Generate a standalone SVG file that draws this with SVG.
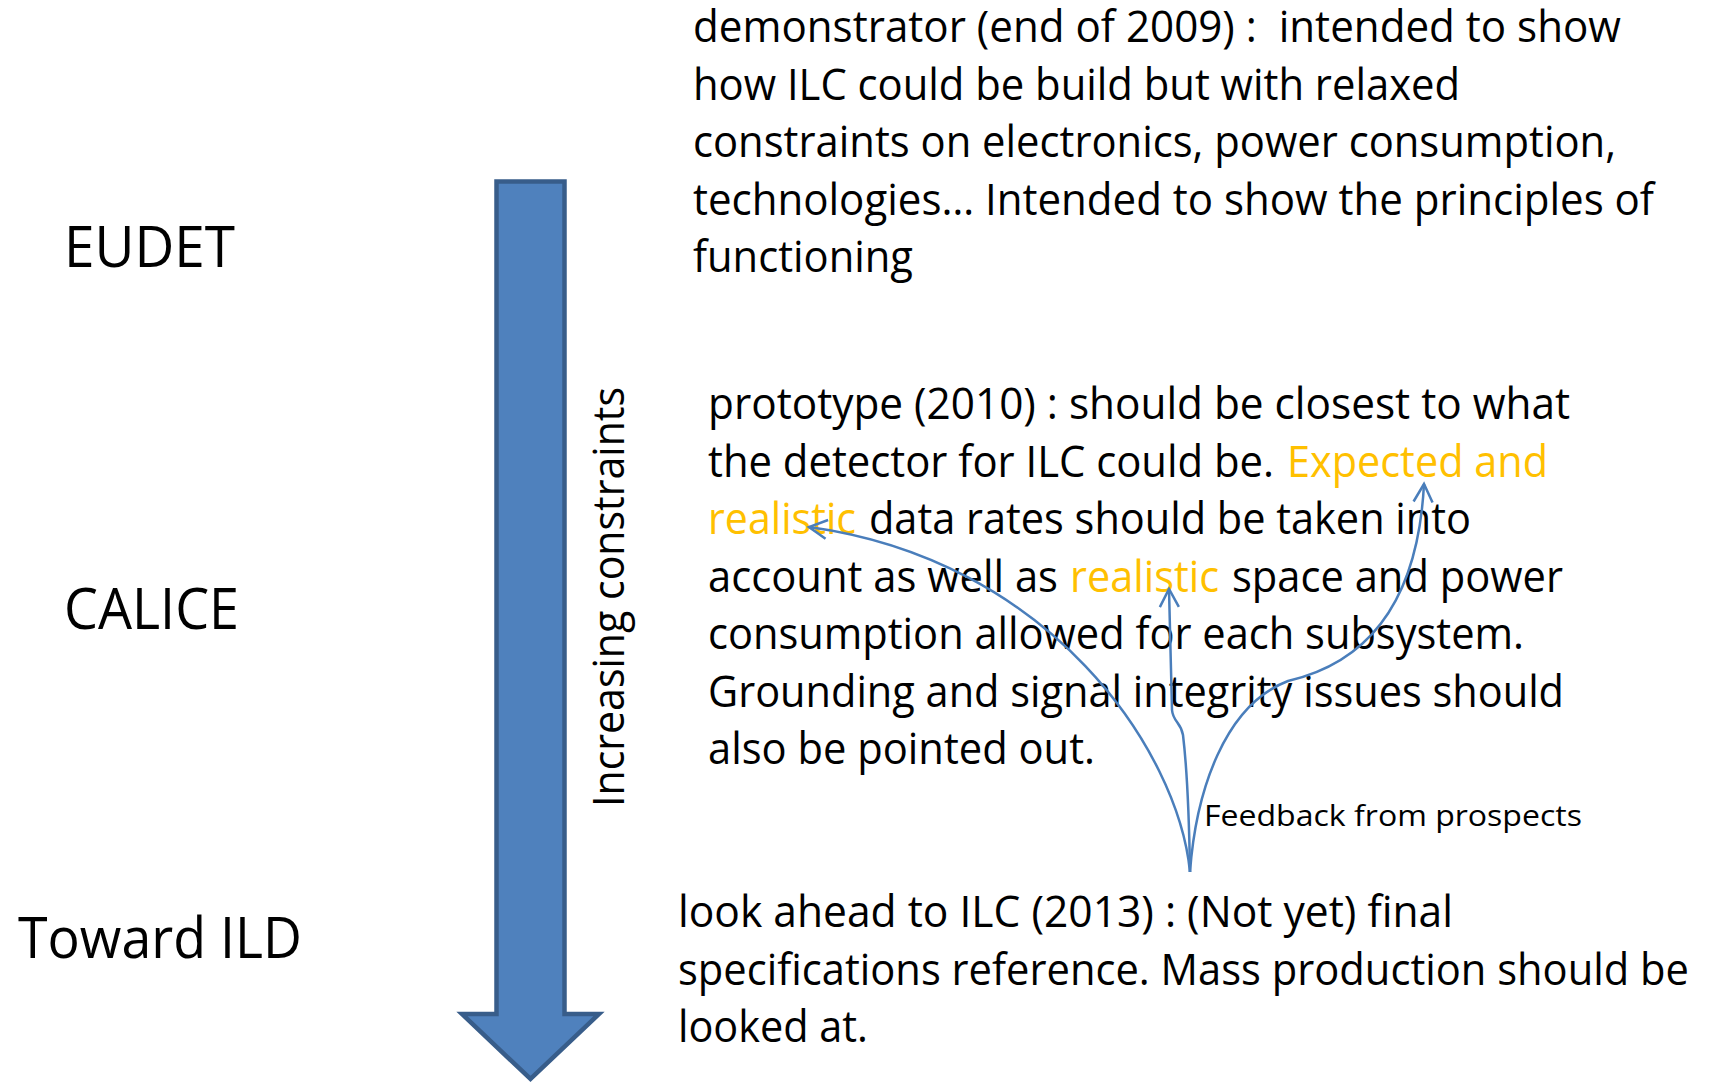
<svg xmlns="http://www.w3.org/2000/svg" width="1710" height="1083" viewBox="0 0 1710 1083">
<style>
.t{font-family:"Open Sans","Noto Sans","Liberation Sans",sans-serif;fill:#000;}
.b{font-size:43px;}
.o{fill:#FFC000;}
.lbl{font-size:57px;}
.fb{font-size:29.5px;}
.conn{fill:none;stroke:#4A7EBB;stroke-width:2.5;}
</style>
<defs>
<marker id="ah" markerUnits="userSpaceOnUse" markerWidth="26" markerHeight="26" refX="20" refY="11" orient="auto" overflow="visible">
<path d="M2,1.5 L20,11 L2,20.5" fill="none" stroke="#4A7EBB" stroke-width="2.5"/>
</marker>
</defs>
<rect width="1710" height="1083" fill="#fff"/>

<g id="big-arrow">
<path d="M496.5,181.5 H564.5 V1014 H599 L530.5,1079 L462,1014 H496.5 Z" fill="#4F81BD" stroke="#385D8A" stroke-width="4.5" stroke-linejoin="miter"/>
</g>

<g id="label-increasing">
<text class="t b" transform="translate(623.5,807) rotate(-90)" x="0" y="0" textLength="420" lengthAdjust="spacingAndGlyphs">Increasing constraints</text>
</g>

<g id="label-eudet"><text class="t lbl" x="64" y="267" textLength="171" lengthAdjust="spacingAndGlyphs">EUDET</text></g>
<g id="label-calice"><text class="t lbl" x="64" y="629" textLength="175" lengthAdjust="spacingAndGlyphs">CALICE</text></g>
<g id="label-ild"><text class="t lbl" x="18" y="958" textLength="284" lengthAdjust="spacingAndGlyphs">Toward ILD</text></g>

<g id="demonstrator">
<text class="t b" x="693" y="42" textLength="928" lengthAdjust="spacingAndGlyphs" xml:space="preserve">demonstrator (end of 2009) :  intended to show</text>
<text class="t b" x="693" y="99.6" textLength="767" lengthAdjust="spacingAndGlyphs">how ILC could be build but with relaxed</text>
<text class="t b" x="693" y="157.2" textLength="923" lengthAdjust="spacingAndGlyphs">constraints on electronics, power consumption,</text>
<text class="t b" x="693" y="214.8" textLength="961" lengthAdjust="spacingAndGlyphs">technologies… Intended to show the principles of</text>
<text class="t b" x="693" y="272.4" textLength="220" lengthAdjust="spacingAndGlyphs">functioning</text>
</g>

<g id="prototype">
<text class="t b" x="708" y="419" textLength="862" lengthAdjust="spacingAndGlyphs">prototype (2010) : should be closest to what</text>
<text class="t b" x="708" y="476.5" textLength="566" lengthAdjust="spacingAndGlyphs">the detector for ILC could be.</text>
<text class="t b o" x="1287" y="476.5" textLength="261" lengthAdjust="spacingAndGlyphs">Expected and</text>
<text class="t b o" x="708" y="534" textLength="148" lengthAdjust="spacingAndGlyphs">realistic</text>
<text class="t b" x="869" y="534" textLength="602" lengthAdjust="spacingAndGlyphs">data rates should be taken into</text>
<text class="t b" x="708" y="591.5" textLength="350" lengthAdjust="spacingAndGlyphs">account as well as</text>
<text class="t b o" x="1070" y="591.5" textLength="149" lengthAdjust="spacingAndGlyphs">realistic</text>
<text class="t b" x="1232" y="591.5" textLength="331" lengthAdjust="spacingAndGlyphs">space and power</text>
<text class="t b" x="708" y="649" textLength="816" lengthAdjust="spacingAndGlyphs">consumption allowed for each subsystem.</text>
<text class="t b" x="708" y="706.5" textLength="856" lengthAdjust="spacingAndGlyphs">Grounding and signal integrity issues should</text>
<text class="t b" x="708" y="764" textLength="387" lengthAdjust="spacingAndGlyphs">also be pointed out.</text>
</g>

<g id="lookahead">
<text class="t b" x="678" y="927" textLength="775" lengthAdjust="spacingAndGlyphs">look ahead to ILC (2013) : (Not yet) final</text>
<text class="t b" x="678" y="984.5" textLength="1011" lengthAdjust="spacingAndGlyphs">specifications reference. Mass production should be</text>
<text class="t b" x="678" y="1042" textLength="190" lengthAdjust="spacingAndGlyphs">looked at.</text>
</g>

<g id="feedback-label">
<text class="t fb" x="1204" y="826" textLength="378" lengthAdjust="spacingAndGlyphs">Feedback from prospects</text>
</g>

<g id="connectors">
<path class="conn" d="M1190,872 C1178,750 1050,560 809,527" marker-end="url(#ah)"/>
<path class="conn" d="M1190,872 C1189,810 1186,760 1183,735 C1181,722 1173,722 1172,710 C1171,680 1170,640 1169,589" marker-end="url(#ah)"/>
<path class="conn" d="M1190,872 C1196,790 1225,705 1288,681 C1370,662 1418,600 1424,484" marker-end="url(#ah)"/>
</g>
</svg>
